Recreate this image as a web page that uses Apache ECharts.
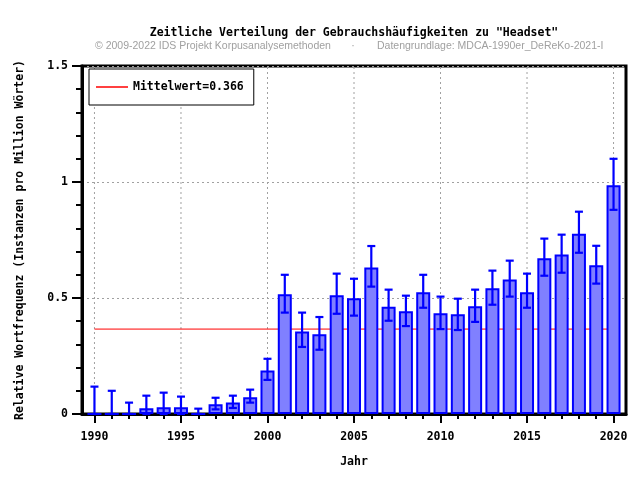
<!DOCTYPE html>
<html><head><meta charset="utf-8">
<script src="https://cdn.jsdelivr.net/npm/echarts@6/dist/echarts.min.js"></script>
<style>html,body{margin:0;padding:0;background:#fff}#c{width:640px;height:480px}</style>
</head><body><div id="c"></div>
<script>
var years = [1990,1991,1992,1993,1994,1995,1996,1997,1998,1999,2000,2001,2002,2003,2004,2005,2006,2007,2008,2009,2010,2011,2012,2013,2014,2015,2016,2017,2018,2019,2020];
var freq  = [0,0,0,0.025,0.029,0.029,0,0.042,0.050,0.072,0.187,0.516,0.356,0.344,0.512,0.499,0.632,0.462,0.443,0.525,0.434,0.430,0.464,0.542,0.580,0.525,0.671,0.688,0.777,0.641,0.986];
var errLow  = [0,0,0,0,0,0,0,0.020,0.026,0.049,0.147,0.437,0.289,0.277,0.432,0.424,0.549,0.402,0.379,0.458,0.366,0.362,0.397,0.471,0.506,0.458,0.596,0.609,0.695,0.562,0.880];
var errHigh = [0.118,0.100,0.049,0.079,0.092,0.075,0.023,0.070,0.079,0.105,0.238,0.600,0.437,0.418,0.605,0.583,0.724,0.536,0.510,0.600,0.506,0.497,0.536,0.618,0.661,0.605,0.756,0.773,0.872,0.725,1.100];
var meanValue = 0.366;
var xTickLabels = [1990,1995,2000,2005,2010,2015,2020];

var MONO = '"DejaVu Sans Mono", monospace';
var blue = '#0000ff';
var chart = echarts.init(document.getElementById('c'));
var meanName = 'Mittelwert=' + meanValue.toFixed(3);

chart.setOption({
  animation: false,
  backgroundColor: '#fff',
  grid: { left: 82, right: 14, top: 66, bottom: 66, show: true, borderColor: '#000', borderWidth: 3, containLabel: false },
  graphic: [
    { type: 'text', x: 354, y: 33, style: { text: 'Zeitliche Verteilung der Gebrauchshäufigkeiten zu "Headset"', font: 'bold 11.5px ' + MONO, fill: '#000', textAlign: 'center', textVerticalAlign: 'middle' } },
    { type: 'text', x: 95, y: 46, style: { text: '© 2009-2022 IDS Projekt Korpusanalysemethoden', font: '10.5px "Liberation Sans", Arial, sans-serif', fill: '#a0a0a0', textAlign: 'left', textVerticalAlign: 'middle' } },
    { type: 'text', x: 353, y: 46, style: { text: '·', font: '10.5px "Liberation Sans", Arial, sans-serif', fill: '#a0a0a0', textAlign: 'center', textVerticalAlign: 'middle' } },
    { type: 'text', x: 377, y: 46, style: { text: 'Datengrundlage: MDCA-1990er_DeReKo-2021-I', font: '10.5px "Liberation Sans", Arial, sans-serif', fill: '#a0a0a0', textAlign: 'left', textVerticalAlign: 'middle' } }
  ],
  legend: {
    left: 89, top: 69, orient: 'horizontal',
    padding: [12, 10, 12, 7],
    borderColor: '#000', borderWidth: 1, backgroundColor: '#fff',
    icon: 'rect', itemWidth: 32, itemHeight: 1.5, itemGap: 5,
    textStyle: { fontFamily: MONO, fontWeight: 'bold', fontSize: 11.5, color: '#000' },
    data: [meanName]
  },
  xAxis: [{
    type: 'value', min: 1989.28, max: 2020.72, position: 'bottom',
    name: 'Jahr', nameLocation: 'middle', nameGap: 42,
    nameTextStyle: { fontFamily: MONO, fontWeight: 'bold', fontSize: 11.5, color: '#000' },
    axisLine: { show: true, onZero: false, lineStyle: { color: '#000', width: 3 } },
    axisTick: { show: true, customValues: xTickLabels, length: 9, inside: false, lineStyle: { color: '#000', width: 2 } },
    axisLabel: { show: true, customValues: xTickLabels, margin: 17, fontFamily: MONO, fontWeight: 'bold', fontSize: 11.5, color: '#000', formatter: function (v) { return String(Math.round(v)); } },
    splitLine: { show: false }
  }, {
    type: 'value', min: 1989.28, max: 2020.72, position: 'bottom',
    axisLine: { show: false },
    axisTick: { show: true, customValues: years, length: 5, lineStyle: { color: '#000', width: 2 } },
    axisLabel: { show: false },
    splitLine: { show: false }
  }],
  yAxis: {
    type: 'value', min: 0, max: 1.5, interval: 0.5,
    name: 'Relative Wortfrequenz (Instanzen pro Million Wörter)', nameLocation: 'middle', nameGap: 56,
    nameTextStyle: { fontFamily: MONO, fontWeight: 'bold', fontSize: 11.5, color: '#000' },
    axisLine: { show: true, lineStyle: { color: '#000', width: 3 } },
    axisTick: { show: true, length: 10, lineStyle: { color: '#000', width: 2 } },
    minorTick: { show: true, splitNumber: 5, length: 6, lineStyle: { color: '#000', width: 2 } },
    axisLabel: { margin: 14, fontFamily: MONO, fontWeight: 'bold', fontSize: 11.5, color: '#000', formatter: function (v) { return String(v); } },
    splitLine: { show: true, lineStyle: { color: '#a0a0a0', type: [2, 3], width: 1 } }
  },
  series: [
    {
      name: 'grid', type: 'custom', z: 0, silent: true,
      data: xTickLabels.map(function (y) { return [y]; }),
      encode: { x: 0 },
      renderItem: function (params, api) {
        var x = api.value(0);
        var a = api.coord([x, 0]), b = api.coord([x, 1.5]);
        return { type: 'line', shape: { x1: a[0], y1: a[1], x2: b[0], y2: b[1] },
          style: { stroke: '#a0a0a0', lineWidth: 1, lineDash: [2, 3], fill: null } };
      }
    },
    {
      name: meanName, type: 'line', z: 1, showSymbol: false, symbol: 'none',
      color: '#ff0000', lineStyle: { color: '#ff0000', width: 1 },
      data: [[years[0], meanValue], [years[years.length - 1], meanValue]]
    },
    {
      name: 'Frequenz', type: 'bar', z: 2, barWidth: 14,
      itemStyle: { color: '#8080ff', borderColor: blue, borderWidth: 2 },
      data: years.map(function (y, i) { return [y, freq[i]]; })
    },
    {
      name: 'Fehler', type: 'custom', z: 3,
      encode: { x: 0, y: [1, 2] },
      data: years.map(function (y, i) { return [y, errLow[i], errHigh[i]]; }),
      renderItem: function (params, api) {
        var x = api.value(0), lo = api.value(1), hi = api.value(2);
        var a = api.coord([x, lo]), b = api.coord([x, hi]);
        var hw = 4;
        var st = { stroke: blue, lineWidth: 2.2, fill: null };
        return { type: 'group', children: [
          { type: 'line', shape: { x1: a[0], y1: a[1], x2: b[0], y2: b[1] }, style: st },
          { type: 'line', shape: { x1: a[0] - hw, y1: a[1], x2: a[0] + hw, y2: a[1] }, style: st },
          { type: 'line', shape: { x1: b[0] - hw, y1: b[1], x2: b[0] + hw, y2: b[1] }, style: st }
        ] };
      }
    }
  ]
});
</script></body></html>
